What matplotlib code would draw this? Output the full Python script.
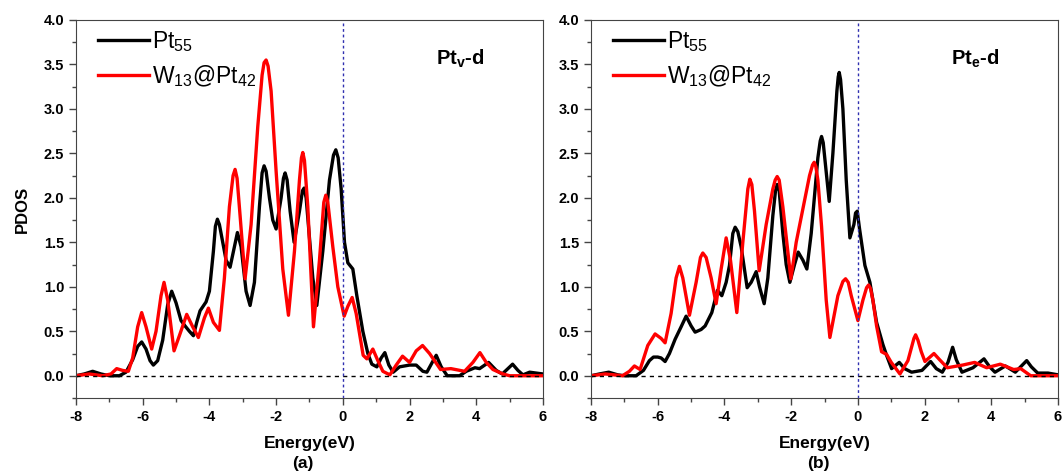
import numpy as np
import matplotlib
matplotlib.use('Agg')
from matplotlib import pyplot as plt
from matplotlib.ticker import MultipleLocator

plt.rcParams['font.family'] = ['Liberation Sans', 'DejaVu Sans']
plt.rcParams['mathtext.fontset'] = 'custom'
plt.rcParams['mathtext.rm'] = 'Liberation Sans'
plt.rcParams['mathtext.it'] = 'Liberation Sans'
plt.rcParams['mathtext.bf'] = 'Liberation Sans:bold'
plt.rcParams['axes.unicode_minus'] = False

#data (a) Pt_v-d
a_pt55_x = [-8.0, -7.75, -7.5, -7.25, -7.0, -6.7, -6.5, -6.3, -6.15, -6.03, -5.9, -5.78, -5.68, -5.55, -5.4,
            -5.25, -5.13, -5.0, -4.85, -4.73, -4.6, -4.48, -4.38, -4.28, -4.1, -4.0, -3.88, -3.82, -3.76, -3.7, -3.6,
            -3.5, -3.38, -3.25, -3.16, -3.05, -2.9, -2.78, -2.65, -2.5, -2.42, -2.36, -2.3, -2.2, -2.1, -2.0,
            -1.85, -1.78, -1.73, -1.67, -1.58, -1.46, -1.3, -1.21, -1.16, -1.1, -1.0, -0.9, -0.78, -0.6, -0.4,
            -0.28, -0.21, -0.14, -0.05, 0.05, 0.15, 0.3, 0.42, 0.6, 0.75, 0.87, 1.02, 1.15, 1.26, 1.38,
            1.51, 1.7, 2.0, 2.2, 2.4, 2.52, 2.68, 2.8, 2.95, 3.13, 3.5, 3.7, 3.96, 4.1, 4.37,
            4.6, 4.78, 4.95, 5.09, 5.25, 5.4, 5.6, 6.0]
a_pt55_y = [0.0, 0.02, 0.05, 0.02, 0.0, 0.0, 0.04, 0.18, 0.33, 0.38, 0.3, 0.17, 0.12, 0.17, 0.4,
            0.8, 0.95, 0.82, 0.62, 0.56, 0.5, 0.45, 0.6, 0.73, 0.83, 0.95, 1.4, 1.68, 1.76, 1.7, 1.5,
            1.3, 1.22, 1.45, 1.61, 1.45, 0.95, 0.79, 1.05, 1.9, 2.28, 2.36, 2.3, 2.0, 1.75, 1.65,
            2.0, 2.22, 2.28, 2.2, 1.85, 1.5, 1.85, 2.08, 2.11, 2.0, 1.55, 1.1, 0.79, 1.4, 2.2,
            2.48, 2.54, 2.45, 2.1, 1.5, 1.27, 1.2, 0.9, 0.5, 0.25, 0.13, 0.1, 0.2, 0.26, 0.12,
            0.04, 0.1, 0.12, 0.12, 0.05, 0.04, 0.15, 0.23, 0.1, 0.0, 0.0, 0.05, 0.09, 0.08, 0.15,
            0.06, 0.02, 0.08, 0.13, 0.06, 0.01, 0.04, 0.02]

a_w13_x = [-8.0, -7.6, -7.2, -6.95, -6.78, -6.6, -6.43, -6.3, -6.15, -6.03, -5.9, -5.73, -5.6, -5.45, -5.36,
           -5.25, -5.06, -4.9, -4.68, -4.5, -4.33, -4.15, -4.03, -3.88, -3.7, -3.55, -3.4, -3.29, -3.23, -3.17,
           -3.08, -2.93, -2.75, -2.55, -2.42, -2.36, -2.3, -2.24, -2.15, -2.0, -1.8, -1.63, -1.45, -1.3, -1.24,
           -1.2, -1.15, -1.05, -0.88, -0.7, -0.57, -0.51, -0.45, -0.3, -0.15, 0.04, 0.15, 0.28, 0.4, 0.61,
           0.72, 0.9, 1.05, 1.2, 1.41, 1.6, 1.79, 2.0, 2.2, 2.39, 2.6, 2.93, 3.24, 3.65, 3.9,
           4.11, 4.3, 4.5, 4.8, 5.0, 6.0]
a_w13_y = [0.0, 0.02, 0.0, 0.02, 0.08, 0.06, 0.05, 0.2, 0.55, 0.71, 0.55, 0.3, 0.5, 0.9, 1.05,
           0.85, 0.28, 0.45, 0.69, 0.55, 0.43, 0.65, 0.76, 0.6, 0.51, 1.1, 1.9, 2.25, 2.32, 2.22,
           1.8, 1.09, 1.7, 2.8, 3.38, 3.52, 3.55, 3.48, 3.2, 2.3, 1.2, 0.68, 1.4, 2.2, 2.45,
           2.51, 2.42, 1.9, 0.55, 1.3, 1.95, 2.03, 1.95, 1.45, 1.0, 0.67, 0.78, 0.88, 0.7, 0.23,
           0.19, 0.3, 0.17, 0.05, 0.01, 0.12, 0.22, 0.15, 0.28, 0.34, 0.25, 0.07, 0.08, 0.05, 0.15,
           0.26, 0.15, 0.07, 0.02, 0.0, 0.0]

#data (b) Pt_e-d
b_pt55_x = [-8.0, -7.75, -7.47, -7.2, -7.0, -6.65, -6.43, -6.25, -6.13, -6.0, -5.9, -5.78, -5.65, -5.48, -5.3,
            -5.15, -5.0, -4.88, -4.7, -4.58, -4.38, -4.21, -4.08, -3.95, -3.85, -3.75, -3.68, -3.6, -3.5, -3.32,
            -3.2, -3.05, -2.95, -2.81, -2.7, -2.55, -2.47, -2.42, -2.36, -2.25, -2.15, -2.04, -1.9, -1.79, -1.65,
            -1.53, -1.4, -1.2, -1.13, -1.09, -1.04, -0.98, -0.86, -0.75, -0.63, -0.59, -0.56, -0.52, -0.45, -0.35,
            -0.24, -0.12, -0.07, -0.02, 0.05, 0.21, 0.36, 0.56, 0.75, 0.86, 1.01, 1.24, 1.4, 1.61, 1.92,
            2.18, 2.35, 2.53, 2.7, 2.84, 2.95, 3.12, 3.45, 3.78, 3.95, 4.11, 4.42, 4.72, 5.06, 5.2,
            5.39, 5.7, 6.0]
b_pt55_y = [0.0, 0.02, 0.04, 0.01, 0.0, 0.0, 0.06, 0.17, 0.21, 0.21, 0.2, 0.16, 0.25, 0.41, 0.55,
            0.67, 0.56, 0.49, 0.52, 0.56, 0.71, 0.96, 0.9, 1.05, 1.24, 1.6, 1.67, 1.62, 1.45, 0.99,
            1.05, 1.17, 1.0, 0.81, 1.1, 1.8, 2.08, 2.15, 2.08, 1.6, 1.25, 1.05, 1.25, 1.39, 1.3,
            1.2, 1.6, 2.45, 2.64, 2.69, 2.62, 2.4, 1.96, 2.5, 3.2, 3.36, 3.41, 3.33, 3.0, 2.2,
            1.55, 1.7, 1.83, 1.85, 1.65, 1.24, 1.05, 0.6, 0.35, 0.23, 0.08, 0.15, 0.08, 0.04, 0.06,
            0.16, 0.08, 0.04, 0.15, 0.32, 0.18, 0.04, 0.09, 0.19, 0.1, 0.04, 0.11, 0.04, 0.17, 0.1,
            0.03, 0.03, 0.01]

b_w13_x = [-8.0, -7.57, -7.06, -6.85, -6.7, -6.53, -6.3, -6.08, -5.9, -5.78, -5.6, -5.45, -5.35, -5.25, -5.05,
           -4.85, -4.72, -4.65, -4.55, -4.4, -4.25, -4.1, -3.95, -3.82, -3.63, -3.45, -3.3, -3.24, -3.18, -3.1,
           -2.96, -2.75, -2.55, -2.48, -2.42, -2.36, -2.25, -2.01, -1.85, -1.69, -1.45, -1.36, -1.31, -1.26, -1.2,
           -1.09, -0.95, -0.84, -0.6, -0.45, -0.37, -0.29, -0.2, 0.0, 0.15, 0.26, 0.32, 0.38, 0.45, 0.56,
           0.71, 0.86, 1.0, 1.26, 1.5, 1.68, 1.73, 1.8, 1.9, 2.01, 2.28, 2.45, 2.68, 3.14, 3.5,
           3.86, 4.27, 4.67, 4.88, 5.18, 6.0]
b_w13_y = [0.0, 0.02, 0.0, 0.05, 0.11, 0.07, 0.34, 0.47, 0.42, 0.37, 0.7, 1.1, 1.23, 1.1, 0.68,
           1.05, 1.33, 1.38, 1.33, 1.1, 0.81, 1.2, 1.55, 1.3, 0.71, 1.5, 2.1, 2.21, 2.15, 1.85,
           1.18, 1.7, 2.1, 2.2, 2.24, 2.2, 1.9, 1.09, 1.5, 1.8, 2.25, 2.37, 2.4, 2.35, 2.2,
           1.68, 0.85, 0.43, 0.9, 1.06, 1.09, 1.05, 0.9, 0.62, 0.85, 0.99, 1.02, 0.98, 0.85, 0.56,
           0.27, 0.24, 0.15, 0.02, 0.17, 0.42, 0.46, 0.4, 0.27, 0.16, 0.25, 0.18, 0.09, 0.12, 0.15,
           0.09, 0.13, 0.07, 0.08, 0.0, 0.0]

panels = [
    (a_pt55_x, a_pt55_y, a_w13_x, a_w13_y, 'Pt', 'v', '(a)'),
    (b_pt55_x, b_pt55_y, b_w13_x, b_w13_y, 'Pt', 'e', '(b)'),
]
yticks = [0.0, 0.5, 1.0, 1.5, 2.0, 2.5, 3.0, 3.5, 4.0]

fig = plt.figure(figsize=(10.64, 4.73), dpi=100)
lefts = [0.0714, 0.5555]

for i, (x1, y1, x2, y2, tag, tsub, sub) in enumerate(panels):
    ax = fig.add_axes([lefts[i], 0.1586, 0.4389, 0.7992])
    ax.plot(x1, y1, color='black', lw=2.4, solid_joinstyle='round', label=r'Pt$_\mathregular{55}$')
    ax.plot(x2, y2, color='#ff0000', lw=2.4, solid_joinstyle='round',
            label=r'W$_\mathregular{13}$@Pt$_\mathregular{42}$')
    ax.axhline(0, color='black', ls=(0, (3, 3)), lw=1)
    ax.axvline(0, color='#3030b0', ls=(0, (2, 2)), lw=1)

    ax.set_xlim(-8, 6)
    ax.set_ylim(-0.25, 4.0)
    ax.xaxis.set_major_locator(MultipleLocator(2))
    ax.xaxis.set_minor_locator(MultipleLocator(1))
    ax.set_yticks(yticks)
    ax.yaxis.set_minor_locator(MultipleLocator(0.25))
    ax.tick_params(which='both', direction='out', top=False, right=False, color='#444444')
    ax.tick_params(which='major', length=5, width=1, labelsize=10.5)
    ax.tick_params(which='minor', length=3, width=1)
    ax.set_yticklabels(['%.1f' % v for v in yticks], fontweight='bold')
    for lab in ax.get_xticklabels():
        lab.set_fontweight('bold')
    for sp in ax.spines.values():
        sp.set_color('#444444')

    ax.set_xlabel('Energy(eV)', fontsize=12.5, fontweight='bold', labelpad=9)
    fig.text(lefts[i] + 0.4389 / 2 - 0.006, 0.021, sub, fontsize=12.5, fontweight='bold',
             ha='center', va='center')
    if i == 0:
        ax.set_ylabel('PDOS', fontsize=12, fontweight='bold', labelpad=10)

    ax.text(2.8, 3.5, tag + r'$_\mathbf{' + tsub + '}$-d', fontsize=14.5, fontweight='bold')
    ax.legend(loc='upper left', bbox_to_anchor=(0.028, 1.0), frameon=False, fontsize=16.5,
              handlelength=2.2, handletextpad=0.15, labelspacing=0.4, borderaxespad=0)

plt.savefig('out.png', dpi=100)
